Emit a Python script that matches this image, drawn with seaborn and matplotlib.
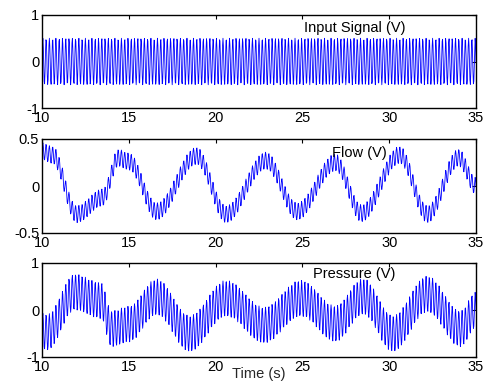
import numpy as np
import pandas as pd
import matplotlib
matplotlib.use("Agg")
import matplotlib.pyplot as plt
import seaborn as sns

# values (time in s, level in V)
input_amp = 0.5
carrier_hz = 5.3
sample_hz = 40

flow_t = [10.0, 10.6, 12.0, 13.5, 14.4, 15.0, 16.6, 18.9, 20.6, 22.9, 24.7, 26.9, 28.4, 30.6, 32.2, 34.0, 35.0]
flow_v = [0.37, 0.33, -0.30, -0.12, 0.30, 0.26, -0.27, 0.32, -0.30, 0.27, -0.27, 0.25, -0.29, 0.33, -0.30, 0.30, 0.0]
flow_ripple = 0.09

press_t = [10.0, 10.3, 11.9, 13.4, 14.0, 15.0, 16.6, 18.5, 20.6, 22.8, 24.9, 26.9, 28.5, 30.2, 32.2, 34.1, 35.0]
press_v = [-0.45, -0.47, 0.38, 0.20, -0.40, -0.30, 0.28, -0.50, 0.25, -0.32, 0.25, -0.29, 0.29, -0.50, 0.34, -0.40, 0.0]
press_ripple = 0.38

x_ticks = [10, 15, 20, 25, 30, 35]


def slow_wave(t, knots_t, knots_v):
    # cosine blend between the read extrema
    idx = np.clip(np.searchsorted(knots_t, t, side="right") - 1, 0, len(knots_t) - 2)
    t0 = np.asarray(knots_t)[idx]
    t1 = np.asarray(knots_t)[idx + 1]
    v0 = np.asarray(knots_v)[idx]
    v1 = np.asarray(knots_v)[idx + 1]
    w = (1 - np.cos(np.pi * (t - t0) / (t1 - t0))) / 2
    return v0 + (v1 - v0) * w


t = np.arange(10, 35 + 1e-9, 1 / sample_hz)
carrier = np.sin(2 * np.pi * carrier_hz * t)
df = pd.DataFrame({
    "t": t,
    "input": input_amp * carrier,
    "flow": slow_wave(t, flow_t, flow_v) + flow_ripple * carrier,
    "pressure": slow_wave(t, press_t, press_v) + press_ripple * carrier,
})

sns.set_style("white")
plt.rcParams["font.family"] = ["Liberation Sans", "DejaVu Sans"]

fig = plt.figure(figsize=(4.88, 3.81), dpi=100)
boxes = [[42 / 488, 1 - 108 / 381, 434 / 488, 93 / 381],
         [42 / 488, 1 - 233 / 381, 434 / 488, 94 / 381],
         [42 / 488, 1 - 357 / 381, 434 / 488, 94 / 381]]
specs = [("input", (-1, 1), [-1, 0, 1], ["-1", "0", "1"], "Input Signal (V)", 28.0, 0.72),
         ("flow", (-0.5, 0.5), [-0.5, 0, 0.5], ["-0.5", "0", "0.5"], "Flow (V)", 28.3, 0.35),
         ("pressure", (-1, 1), [-1, 0, 1], ["-1", "0", "1"], "Pressure (V)", 28.0, 0.77)]

for box, (col, ylim, yt, ytl, label, lx, ly) in zip(boxes, specs):
    ax = fig.add_axes(box)
    sns.lineplot(data=df, x="t", y=col, ax=ax, color="blue", linewidth=0.6)
    ax.set_xlim(10, 35)
    ax.set_ylim(*ylim)
    ax.set_xticks(x_ticks)
    ax.set_yticks(yt)
    ax.set_yticklabels(ytl)
    ax.set_xlabel("")
    ax.set_ylabel("")
    ax.tick_params(direction="in", top=True, right=True, length=3, width=0.8,
                   labelsize=10.5, pad=2, colors="black")
    for s in ax.spines.values():
        s.set_color("black")
        s.set_linewidth(1.0)
    ax.text(lx, ly, label, ha="center", va="center", fontsize=10.5, color="black")

ax.set_xlabel("Time (s)", fontsize=10.5, labelpad=-5)

fig.savefig("out.png", dpi=100)
